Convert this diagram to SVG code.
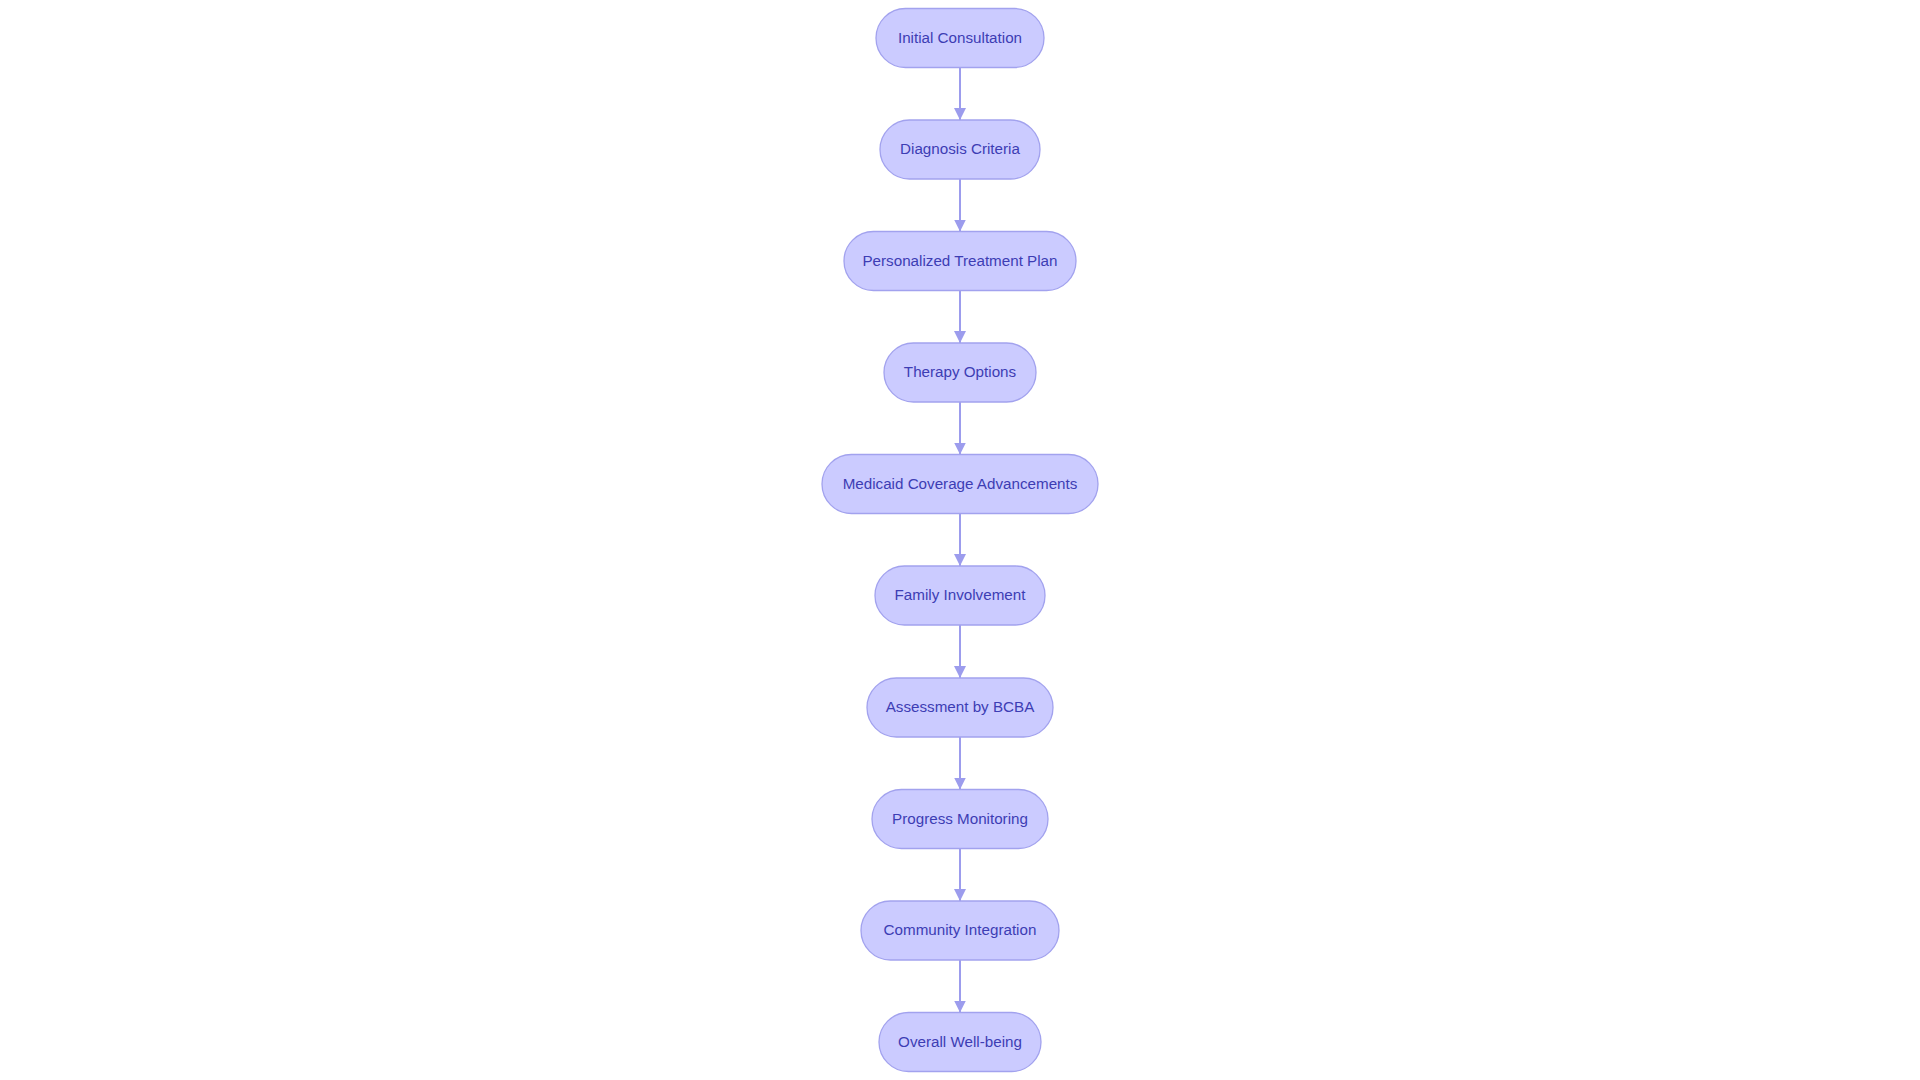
<svg xmlns="http://www.w3.org/2000/svg" width="1920" height="1080" viewBox="0 0 1920 1080">
<style>
.node rect{fill:#cbcbff;stroke:#a2a2ee;stroke-width:1.3}
.node text{font-family:"Liberation Sans",Arial,sans-serif;font-size:15.2px;fill:#3d3db4;text-anchor:middle;dominant-baseline:central}
.edge{stroke:#9c9ced;stroke-width:2;fill:none}
</style>
<defs>
<marker id="arrow" viewBox="0 0 12 12" refX="12" refY="6" markerWidth="12" markerHeight="12" markerUnits="userSpaceOnUse" orient="auto">
<path d="M0,0 L12,6 L0,12 z" fill="#9c9ced"/>
</marker>
</defs>
<rect width="1920" height="1080" fill="#ffffff"/>
<g id="connectors">
<line class="edge" x1="960" y1="67.5" x2="960" y2="120" marker-end="url(#arrow)"/>
<line class="edge" x1="960" y1="179" x2="960" y2="231.5" marker-end="url(#arrow)"/>
<line class="edge" x1="960" y1="290.5" x2="960" y2="343" marker-end="url(#arrow)"/>
<line class="edge" x1="960" y1="402" x2="960" y2="454.5" marker-end="url(#arrow)"/>
<line class="edge" x1="960" y1="513.5" x2="960" y2="566" marker-end="url(#arrow)"/>
<line class="edge" x1="960" y1="625" x2="960" y2="678" marker-end="url(#arrow)"/>
<line class="edge" x1="960" y1="737" x2="960" y2="789.5" marker-end="url(#arrow)"/>
<line class="edge" x1="960" y1="848.5" x2="960" y2="901" marker-end="url(#arrow)"/>
<line class="edge" x1="960" y1="960" x2="960" y2="1012.5" marker-end="url(#arrow)"/>
</g>
<g id="n1" class="node"><rect x="876" y="8.5" width="168" height="59" rx="29.5"/><text x="960" y="37">Initial Consultation</text></g>
<g id="n2" class="node"><rect x="880" y="120" width="160" height="59" rx="29.5"/><text x="960" y="148.5">Diagnosis Criteria</text></g>
<g id="n3" class="node"><rect x="844" y="231.5" width="232" height="59" rx="29.5"/><text x="960" y="260">Personalized Treatment Plan</text></g>
<g id="n4" class="node"><rect x="884" y="343" width="152" height="59" rx="29.5"/><text x="960" y="371.5">Therapy Options</text></g>
<g id="n5" class="node"><rect x="822" y="454.5" width="276" height="59" rx="29.5"/><text x="960" y="483">Medicaid Coverage Advancements</text></g>
<g id="n6" class="node"><rect x="875" y="566" width="170" height="59" rx="29.5"/><text x="960" y="594.5">Family Involvement</text></g>
<g id="n7" class="node"><rect x="867" y="678" width="186" height="59" rx="29.5"/><text x="960" y="706.5">Assessment by BCBA</text></g>
<g id="n8" class="node"><rect x="872" y="789.5" width="176" height="59" rx="29.5"/><text x="960" y="818">Progress Monitoring</text></g>
<g id="n9" class="node"><rect x="861" y="901" width="198" height="59" rx="29.5"/><text x="960" y="929.5">Community Integration</text></g>
<g id="n10" class="node"><rect x="879" y="1012.5" width="162" height="59" rx="29.5"/><text x="960" y="1041">Overall Well-being</text></g>
</svg>
